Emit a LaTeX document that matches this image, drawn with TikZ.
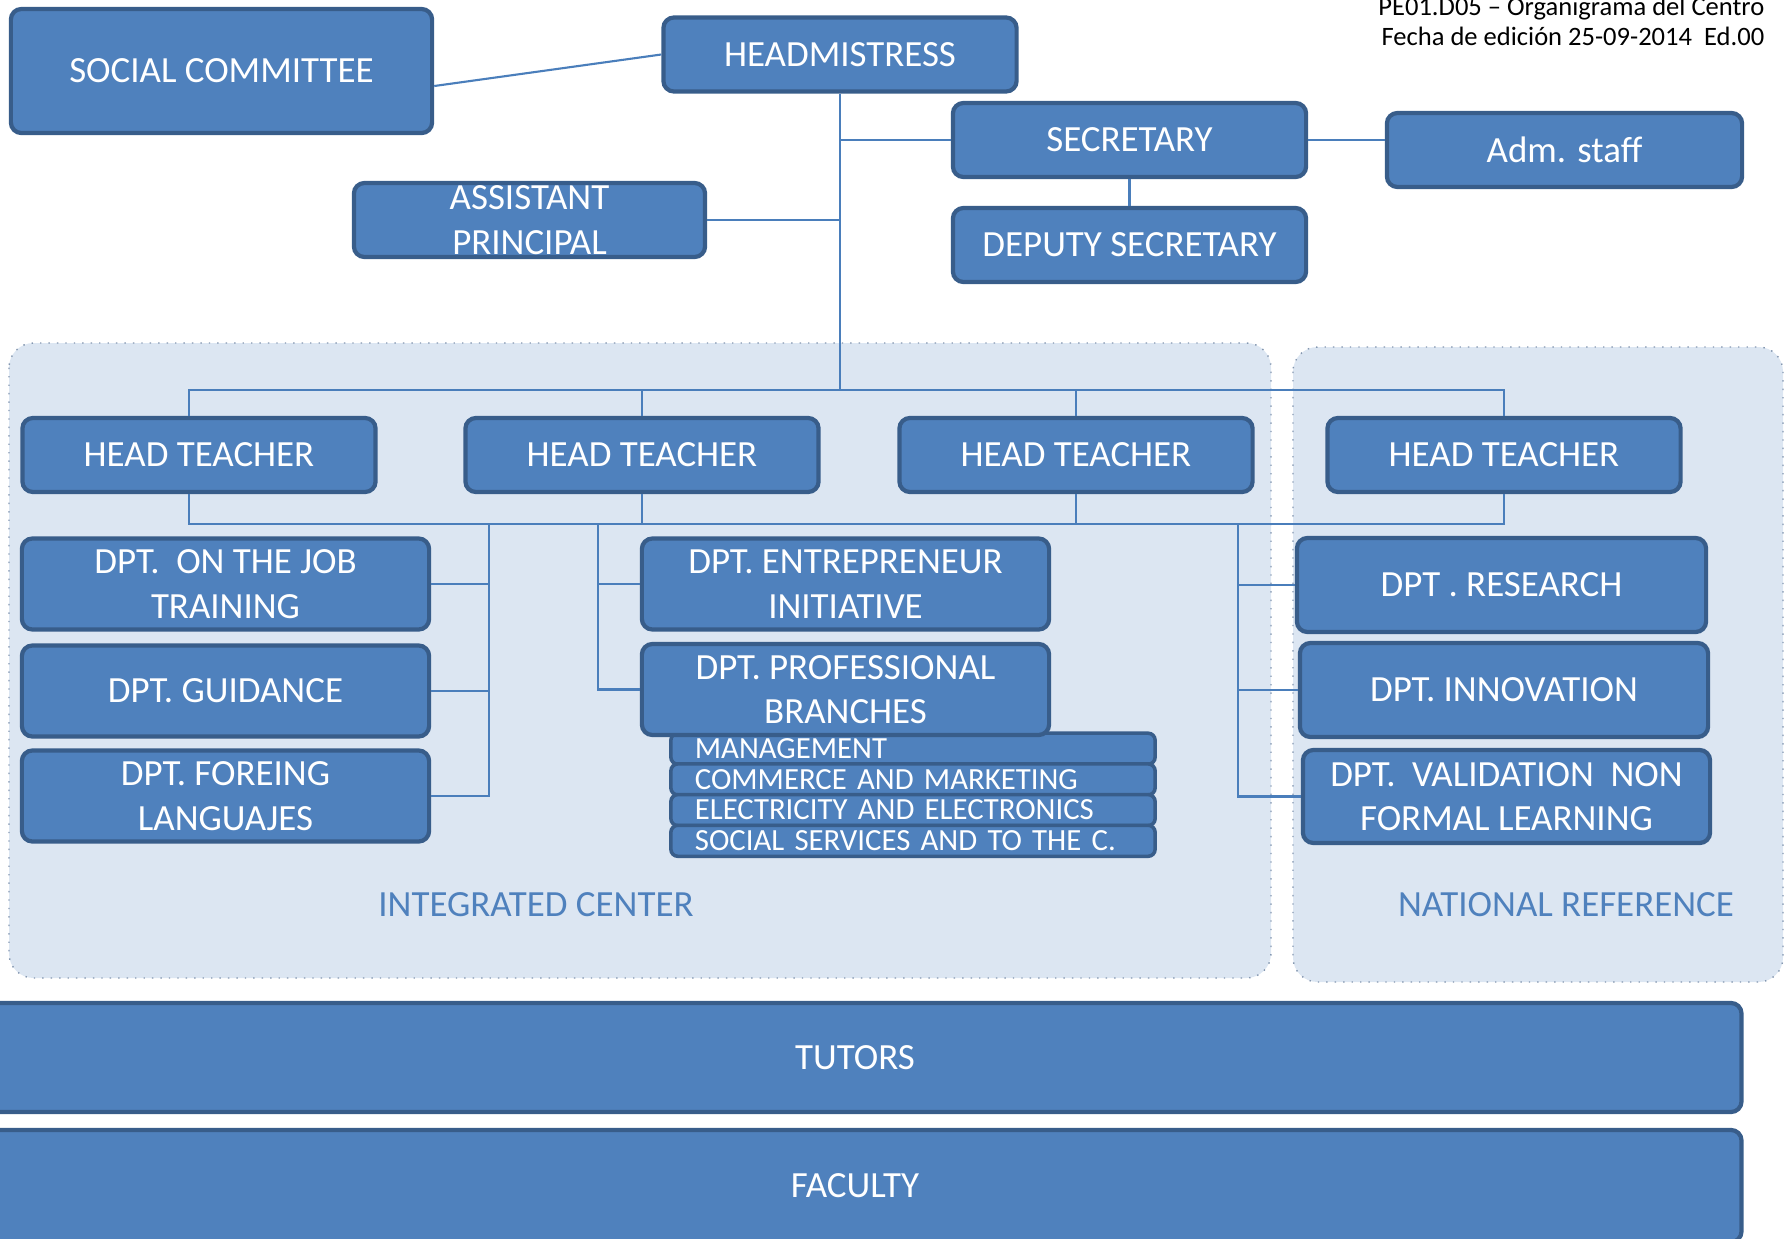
\documentclass[tikz,border=0pt]{standalone}
\usepackage{fontspec}
\setmainfont{Carlito}
\definecolor{boxblue}{HTML}{4F81BD}
\definecolor{boxedge}{HTML}{385D8A}
\definecolor{linkblue}{HTML}{4A7EBB}
\definecolor{panelfill}{HTML}{DCE6F2}
\definecolor{paneledge}{HTML}{8497B0}

\begin{document}
\begin{tikzpicture}[x=0.01cm, y=-0.01cm,
  unit/.style={rectangle, rounded corners=3pt, draw=boxedge, line width=1.2pt, fill=boxblue, text=white, align=center, inner sep=0pt, font=\fontsize{10.5}{12.6}\selectfont, minimum width=3.53cm, minimum height=0.74cm},
  dept/.style={unit, minimum width=4.07cm, minimum height=0.91cm},
  branch/.style={unit, rounded corners=2pt, line width=1pt, minimum height=0.31cm, text width=4.36cm, inner xsep=0.24cm, align=left, font=\fontsize{8.75}{9}\selectfont},
  link/.style={draw=linkblue, line width=0.6pt},
  panel/.style={draw=paneledge, dotted, fill=panelfill, rounded corners=7pt, line width=0.4pt},
  caption/.style={text=boxblue, font=\fontsize{10.5}{12.6}\selectfont}]
\useasboundingbox (0,0) rectangle (1787,1239);

% Areas
\draw[panel] (9,343) rectangle (1271,978);
\draw[panel] (1293,347) rectangle (1783,982);
\node[caption] (intlabel) at (536,905) {INTEGRATED CENTER};
\node[caption] (natlabel) at (1566,905) {NATIONAL REFERENCE};

% Header
\node[anchor=base east, inner sep=0pt, font=\fontsize{7.55}{9}\selectfont] (code) at (1765,15) {PE01.D05 – Organigrama del Centro};
\node[anchor=base east, inner sep=0pt, font=\fontsize{7.55}{9}\selectfont] (date) at (1765,45) {Fecha de edición 25-09-2014~~Ed.00};

% Management
\node[unit, minimum width=4.21cm, minimum height=1.24cm] (social) at (221.5,71) {SOCIAL COMMITTEE};
\node[unit] (head) at (840,54.5) {HEADMISTRESS};
\node[unit] (sec) at (1129.5,140) {SECRETARY};
\node[unit, minimum width=3.55cm] (adm) at (1564.5,150) {Adm. staff};
\node[unit] (dep) at (1129.5,245) {DEPUTY SECRETARY};
\node[unit, minimum width=3.51cm] (asst) at (529.5,220) {ASSISTANT\\PRINCIPAL};

% Head teachers
\foreach \n/\x in {1/199, 2/642, 3/1076, 4/1504}
  \node[unit] (ht\n) at (\x,455) {HEAD TEACHER};

% Departments
\node[dept] (job) at (225.5,584) {DPT.~~ON THE JOB\\TRAINING};
\node[dept] (guide) at (225.5,691) {DPT. GUIDANCE};
\node[dept] (lang) at (225.5,796) {DPT. FOREING\\LANGUAJES};
\node[dept] (entre) at (845.5,584) {DPT. ENTREPRENEUR\\INITIATIVE};
% branches list
\foreach \branchname [count=\i] in {MANAGEMENT, COMMERCE AND MARKETING, ELECTRICITY AND ELECTRONICS, SOCIAL SERVICES AND TO THE C.}
  \node[branch] (br\i) at (913,718+30.7*\i) {\branchname};
\node[dept] (prof) at (845.5,689.5) {DPT. PROFESSIONAL\\BRANCHES};
\node[dept, minimum width=4.09cm, minimum height=0.94cm] (res) at (1501.5,585) {DPT . RESEARCH};
\node[dept, minimum width=4.08cm, minimum height=0.94cm] (innov) at (1504,690) {DPT. INNOVATION};
\node[dept, minimum height=0.93cm] (valid) at (1506.5,796.5) {DPT.~~VALIDATION~~NON\\FORMAL LEARNING};

% Tutors and faculty
\node[unit, minimum width=17.72cm, minimum height=1.09cm] (tutors) at (855,1057.5) {TUTORS};
\node[unit, minimum width=17.72cm, minimum height=1.12cm] (faculty) at (855,1186) {FACULTY};

% Connectors
\coordinate (upper) at (840,390);
\coordinate (lower) at (840,524);
\draw[link] ([yshift=-1.5mm]social.east) -- (head.west);
\draw[link] (head) -- (upper);
\draw[link] (sec.west) -- (sec.west -| head.south);
\draw[link] (sec.east) -- (adm.west |- sec.east);
\draw[link] (sec) -- (dep);
\draw[link] (asst.east) -- (asst.east -| head.south);
\draw[link] ([xshift=-1mm]ht1.north) |- (upper) -| (ht4.north);
\draw[link] ([xshift=-1mm]ht1.south) |- (lower) -| (ht4.south);
\foreach \n in {2,3} {
  \draw[link] (ht\n.north) -- (ht\n.north |- upper);
  \draw[link] (ht\n.south) -- (ht\n.south |- lower);
}
% group lines
\coordinate (lcol) at (489,524);
\coordinate (mcol) at (598,524);
\coordinate (rcol) at (1238,524);
\draw[link] (lcol) |- (lang.east);
\draw[link] (job.east) -- (job.east -| lcol);
\draw[link] (guide.east) -- (guide.east -| lcol);
\draw[link] (mcol) |- (prof.west);
\draw[link] (entre.west) -- (entre.west -| mcol);
\draw[link] (rcol) |- (valid.west);
\draw[link] (res.west) -- (res.west -| rcol);
\draw[link] (innov.west) -- (innov.west -| rcol);
\end{tikzpicture}
\end{document}
